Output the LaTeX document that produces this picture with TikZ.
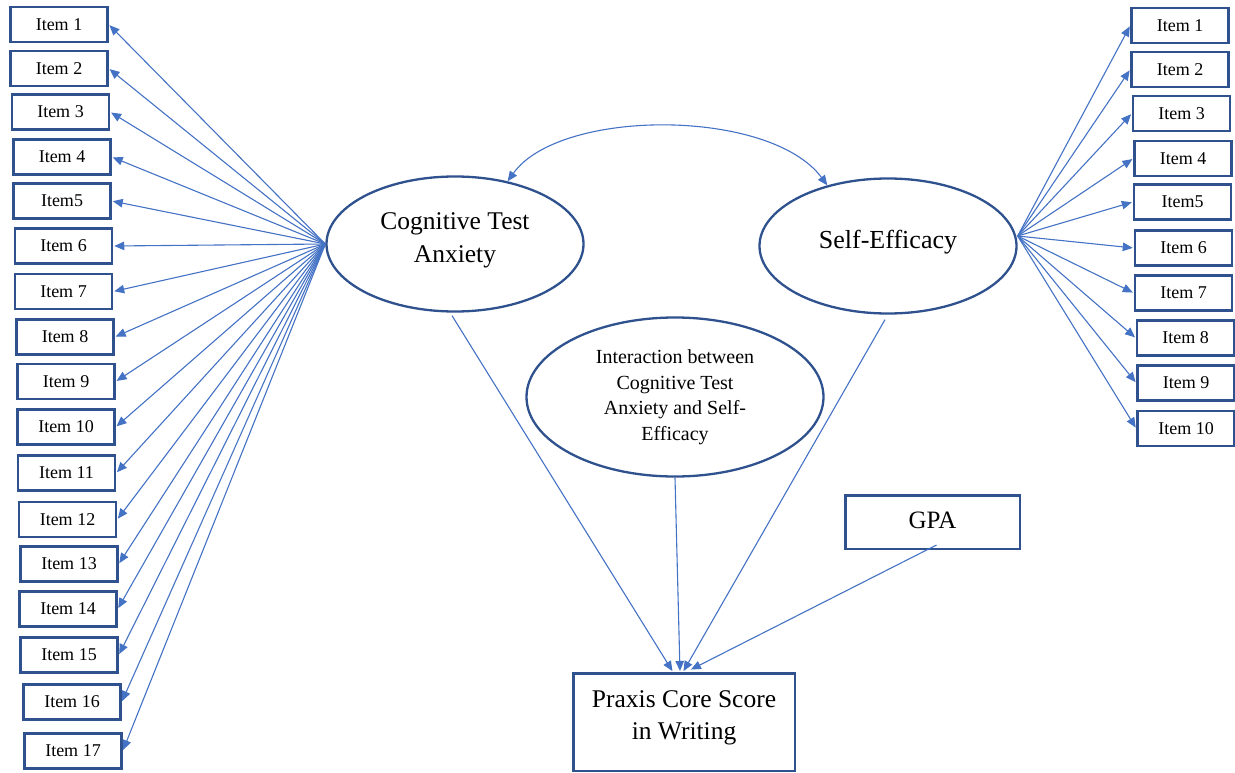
\documentclass[tikz,border=0pt]{standalone}
\usepackage{fontspec}
\setmainfont{Liberation Serif}
\usetikzlibrary{arrows.meta,shapes.geometric}
\definecolor{boxblue}{RGB}{47,82,143}
\definecolor{lineblue}{RGB}{68,114,196}
\tikzset{
  item/.style={draw=boxblue, line width=2.5pt, rectangle, minimum width=97pt, minimum height=35pt, inner sep=0pt, font=\fontsize{18}{21}\selectfont},
  latent/.style={draw=boxblue, line width=2.3pt, ellipse, inner sep=0pt, align=center},
  score/.style={draw=boxblue, line width=2.5pt, rectangle, inner sep=0pt, align=center},
  arr/.style={-{Triangle[length=10pt,width=8.5pt]}, line width=1.1pt, lineblue, shorten >=1pt},
}
\begin{document}
\begin{tikzpicture}[x=1pt,y=-1pt]
\useasboundingbox (0,0) rectangle (1235,773);
% latent variables
\node[latent, minimum width=257pt, minimum height=135pt, text depth=12pt, font=\fontsize{25.5}{33}\selectfont] (cta) at (455,244) {Cognitive Test\\Anxiety};
\node[latent, minimum width=257pt, minimum height=135pt, text depth=13pt, font=\fontsize{26}{30}\selectfont] (se) at (888,246) {Self-Efficacy};
\node[latent, minimum width=297pt, minimum height=159pt, font=\fontsize{20}{25.5}\selectfont] (inter) at (675,397) {Interaction between\\Cognitive Test\\Anxiety and Self-\\Efficacy};
\node[score, minimum width=221.5pt, minimum height=97.5pt, text depth=13.5pt, font=\fontsize{25.5}{32}\selectfont] (px) at (684,722) {Praxis Core Score\\in Writing};
\node[score, minimum width=174.5pt, minimum height=53.5pt, text depth=4pt, font=\fontsize{25}{30}\selectfont] (gpa) at (932.5,522) {GPA};
% items of cognitive test anxiety
\node[item] (a1) at (59,24.5) {Item 1};
\node[item] (a2) at (59,68.5) {Item 2};
\node[item] (a3) at (60.5,112) {Item 3};
\node[item] (a4) at (62,157) {Item 4};
\node[item] (a5) at (62,201) {Item5};
\node[item] (a6) at (63.5,246) {Item 6};
\node[item] (a7) at (63.5,291.5) {Item 7};
\node[item] (a8) at (65,337) {Item 8};
\node[item] (a9) at (66,381.5) {Item 9};
\node[item] (a10) at (66,427) {Item 10};
\node[item] (a11) at (66.5,473) {Item 11};
\node[item] (a12) at (67.5,519.5) {Item 12};
\node[item] (a13) at (69,564) {Item 13};
\node[item] (a14) at (68,609) {Item 14};
\node[item] (a15) at (69,655) {Item 15};
\node[item] (a16) at (72,702) {Item 16};
\node[item] (a17) at (73,751) {Item 17};
% items of self-efficacy
\node[item] (b1) at (1180,25.5) {Item 1};
\node[item] (b2) at (1180,69.5) {Item 2};
\node[item] (b3) at (1181.5,113.5) {Item 3};
\node[item] (b4) at (1183,158.5) {Item 4};
\node[item] (b5) at (1182.5,202) {Item5};
\node[item] (b6) at (1183.5,248) {Item 6};
\node[item] (b7) at (1183.5,293) {Item 7};
\node[item] (b8) at (1185.5,338) {Item 8};
\node[item] (b9) at (1186,383) {Item 9};
\node[item] (b10) at (1186,428.5) {Item 10};
% loadings
\draw [arr] (cta.west) -- (a1.east);
\draw [arr] (cta.west) -- (a2.east);
\draw [arr] (cta.west) -- (a3.east);
\draw [arr] (cta.west) -- (a4.east);
\draw [arr] (cta.west) -- (a5.east);
\draw [arr] (cta.west) -- (a6.east);
\draw [arr] (cta.west) -- (a7.east);
\draw [arr] (cta.west) -- (a8.east);
\draw [arr] (cta.west) -- (a9.east);
\draw [arr] (cta.west) -- (a10.east);
\draw [arr] (cta.west) -- (a11.east);
\draw [arr] (cta.west) -- (a12.east);
\draw [arr] (cta.west) -- (a13.east);
\draw [arr] (cta.west) -- (a14.east);
\draw [arr] (cta.west) -- (a15.east);
\draw [arr] (cta.west) -- (a16.east);
\draw [arr] (cta.west) -- (a17.east);
\draw [arr] ([yshift=10pt]se.east) -- (b1.west);
\draw [arr] ([yshift=10pt]se.east) -- (b2.west);
\draw [arr] ([yshift=10pt]se.east) -- (b3.west);
\draw [arr] ([yshift=10pt]se.east) -- (b4.west);
\draw [arr] ([yshift=10pt]se.east) -- (b5.west);
\draw [arr] ([yshift=10pt]se.east) -- (b6.west);
\draw [arr] ([yshift=10pt]se.east) -- (b7.west);
\draw [arr] ([yshift=10pt]se.east) -- (b8.west);
\draw [arr] ([yshift=10pt]se.east) -- (b9.west);
\draw [arr] ([yshift=10pt]se.east) -- (b10.west);
% covariance
\draw [{Triangle[length=10pt,width=8.5pt]}-{Triangle[length=10pt,width=8.5pt]}, line width=1.1pt, lineblue] (cta.50) .. controls (560,108) and (770,108) .. (se.135);
% paths to the score
\draw [arr] ([xshift=-3pt,yshift=-3pt]cta.south) -- ([xshift=-11pt]px.north);
\draw [arr] (inter.south) -- ([xshift=-4pt]px.north);
\draw [arr] ([xshift=-3pt,yshift=-5pt]se.south) -- ([xshift=-1pt]px.north);
\draw [arr] ([xshift=4pt,yshift=5pt]gpa.south) -- ([xshift=6pt,yshift=2pt]px.north);
\end{tikzpicture}
\end{document}
